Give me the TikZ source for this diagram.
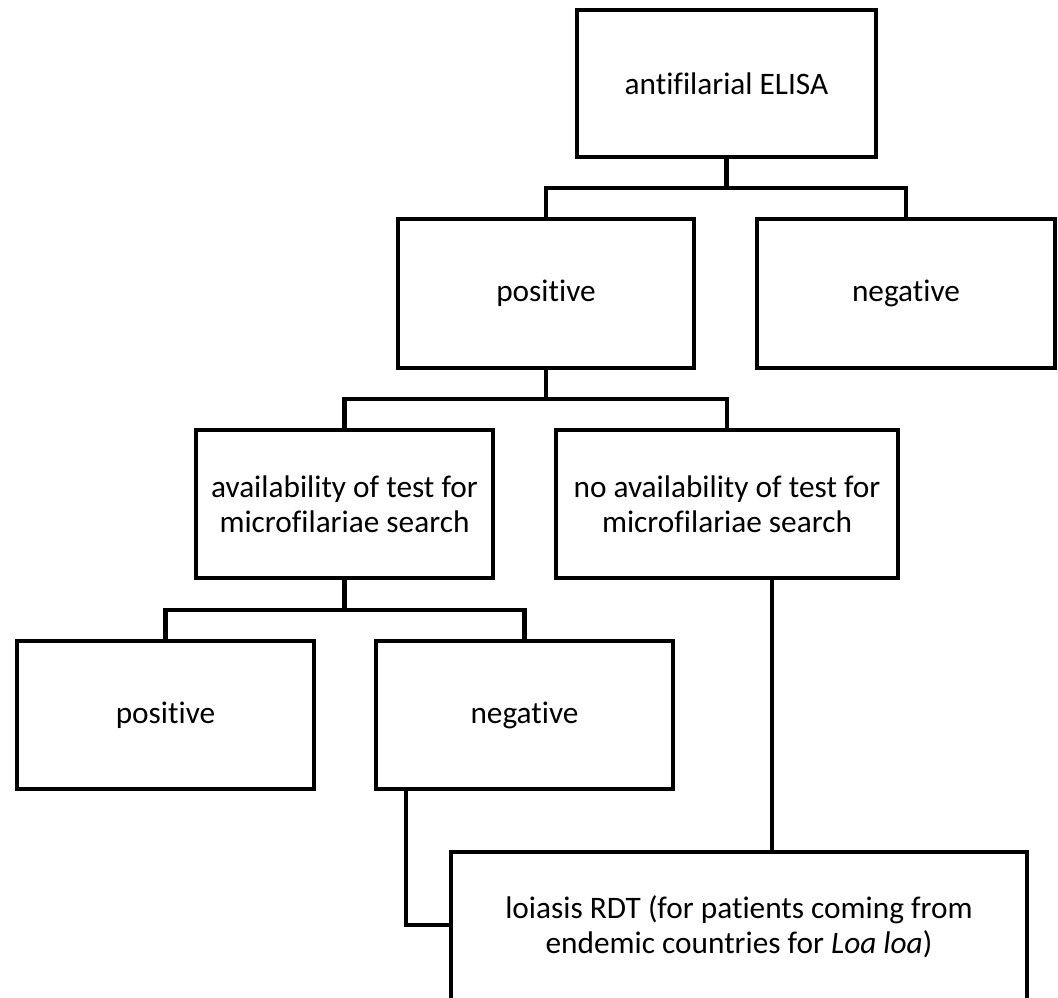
\documentclass[tikz,border=0pt]{standalone}
\usepackage{fontspec}
\setmainfont{Carlito}[Ligatures=NoCommon]
\begin{document}
\begin{tikzpicture}[x=1pt,y=-1pt,
  box/.style={draw=black, line width=4.5pt, inner sep=0pt, align=center,
    font=\fontsize{31.3}{35}\selectfont, text=black},
  link/.style={draw=black, line width=4.5pt}]
\useasboundingbox (0,0) rectangle (1058,997);
\node[box, minimum width=299pt, minimum height=147pt] (elisa) at (726.5,83.5) {antifilarial ELISA};
\node[box, minimum width=296pt, minimum height=149pt] (pos1) at (546,293.5) {positive};
\node[box, minimum width=298pt, minimum height=149pt] (neg1) at (906,293.5) {negative};
\node[box, minimum width=297pt, minimum height=148pt] (avail) at (344.5,504) {availability of test for\\microfilariae search};
\node[box, minimum width=342pt, minimum height=148pt] (noavail) at (727,504) {no availability of test for\\microfilariae search};
\node[box, minimum width=297pt, minimum height=148pt] (pos2) at (165.5,715) {positive};
\node[box, minimum width=297pt, minimum height=148pt] (neg2) at (524.5,715) {negative};
\node[box, minimum width=576pt, minimum height=150pt] (rdt) at (739,927) {loiasis RDT (for patients coming from\\endemic countries for \textit{Loa loa})};
\coordinate (h1) at (726.5,188);
\coordinate (h2) at (546,399);
\coordinate (h3) at (344.5,610);
\coordinate (c1) at (406,925);
\coordinate (c2) at (772,0);
\draw[link] (elisa.south) -- (h1);
\draw[link] (pos1.north) |- (h1) -| (neg1.north);
\draw[link] (pos1.south) -- (h2);
\draw[link] (avail.north) |- (h2) -| (noavail.north);
\draw[link] (avail.south) -- (h3);
\draw[link] (pos2.north) |- (h3) -| (neg2.north);
\draw[link] (c1 |- neg2.south) -- (c1) -- (c1 -| rdt.west);
\draw[link] (c2 |- noavail.south) -- (c2 |- rdt.north);
\end{tikzpicture}
\end{document}
